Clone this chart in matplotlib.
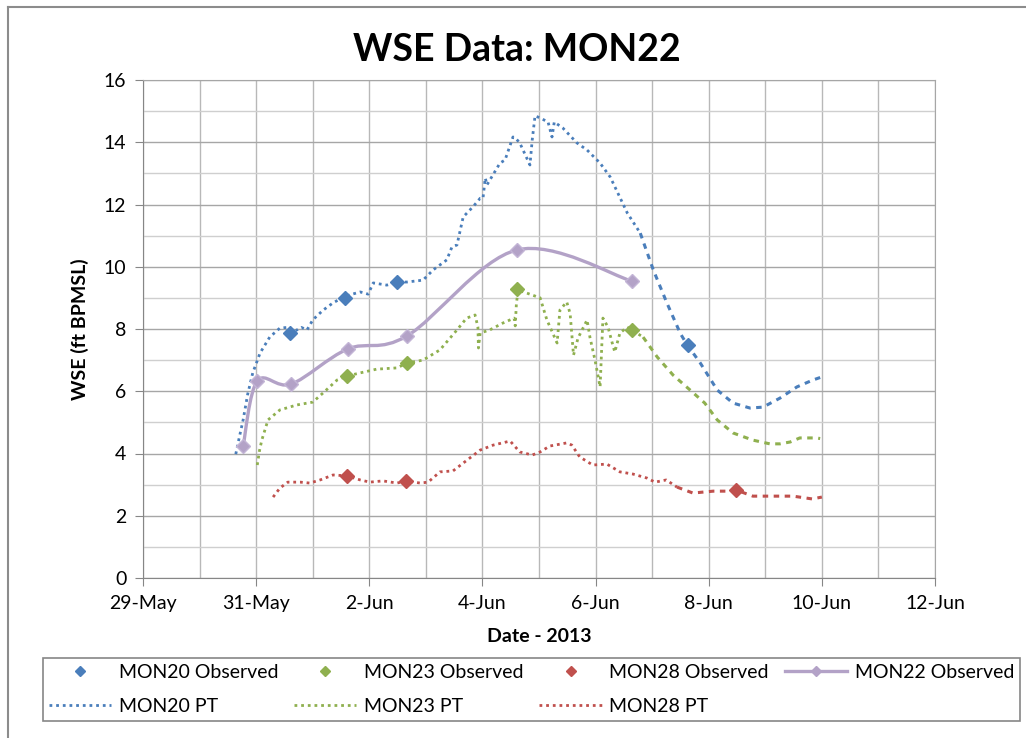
import numpy as np
import matplotlib
matplotlib.use('Agg')
import matplotlib.pyplot as plt
import matplotlib.dates as mdates
from matplotlib.path import Path
from matplotlib.patches import PathPatch
from matplotlib.lines import Line2D
from matplotlib.ticker import MultipleLocator

plt.rcParams['font.family'] = ['Lato', 'DejaVu Sans']

# days after 29-May-2013
base = mdates.date2num(np.datetime64('2013-05-29'))

mon20_obs_x = [2.60, 3.57, 4.49, 9.63]
mon20_obs_y = [7.87, 9.00, 9.51, 7.49]
mon23_obs_x = [3.61, 4.67, 6.61, 8.64]
mon23_obs_y = [6.49, 6.91, 9.29, 7.97]
mon28_obs_x = [3.61, 4.65, 10.48]
mon28_obs_y = [3.28, 3.12, 2.83]
mon22_obs_x = [1.77, 2.02, 2.62, 3.62, 4.67, 6.61, 8.64]
mon22_obs_y = [4.24, 6.33, 6.23, 7.36, 7.78, 10.54, 9.54]

mon20_pt_x = [1.64, 1.70, 1.77, 1.85, 1.94, 2.07, 2.24, 2.42, 2.55, 2.60, 2.70, 2.80,
              2.90, 3.00, 3.18, 3.36, 3.57, 3.70, 3.84, 3.98, 4.07, 4.31, 4.49, 4.67,
              4.95, 5.13, 5.37, 5.46, 5.55, 5.66, 5.83, 5.96, 6.01, 6.05, 6.08, 6.31,
              6.40, 6.54, 6.58, 6.66, 6.84, 6.88, 6.93, 7.02, 7.16, 7.23, 7.27, 7.42,
              7.67, 7.85, 8.08, 8.26, 8.56, 8.79, 9.02, 9.26, 9.50, 9.62, 9.85, 10.15,
              10.43, 10.73, 10.96, 11.26, 11.56, 11.84, 12.00]
mon20_pt_y = [3.98, 4.50, 5.08, 5.90, 6.59, 7.23, 7.74, 8.03, 8.05, 7.95, 7.95, 8.05,
              7.97, 8.29, 8.60, 8.84, 9.05, 9.12, 9.19, 9.12, 9.48, 9.41, 9.50, 9.51,
              9.57, 9.90, 10.22, 10.63, 10.70, 11.60, 11.92, 12.20, 12.20, 12.85, 12.63, 13.33,
              13.43, 14.17, 14.14, 13.98, 13.27, 14.07, 14.85, 14.78, 14.65, 14.17, 14.65, 14.46,
              13.98, 13.75, 13.33, 12.88, 11.73, 11.08, 9.90, 8.84, 7.85, 7.49, 6.91, 6.04,
              5.62, 5.46, 5.49, 5.78, 6.14, 6.36, 6.46]

mon23_pt_x = [2.02, 2.06, 2.10, 2.21, 2.42, 2.72, 3.00, 3.18, 3.43, 3.61, 3.84, 4.13,
              4.49, 4.67, 4.95, 5.25, 5.55, 5.72, 5.87, 5.92, 5.93, 5.96, 6.13, 6.36,
              6.56, 6.58, 6.60, 6.63, 6.79, 7.02, 7.14, 7.32, 7.37, 7.49, 7.55, 7.61,
              7.69, 7.85, 7.90, 7.99, 8.08, 8.13, 8.22, 8.29, 8.34, 8.43, 8.56, 8.64,
              8.84, 9.09, 9.37, 9.67, 9.93, 10.15, 10.43, 10.78, 11.08, 11.26, 11.44, 11.61,
              11.91, 11.97]
mon23_pt_y = [3.63, 4.10, 4.43, 5.08, 5.40, 5.56, 5.65, 5.94, 6.36, 6.49, 6.59, 6.71,
              6.75, 6.91, 7.00, 7.33, 7.97, 8.35, 8.45, 8.06, 7.39, 7.87, 7.97, 8.19,
              8.35, 8.10, 8.80, 9.25, 9.15, 9.00, 8.29, 7.55, 8.61, 8.87, 8.50, 7.16,
              7.71, 8.29, 7.74, 7.00, 6.14, 8.35, 8.06, 7.58, 7.26, 7.87, 8.06, 7.97,
              7.74, 7.10, 6.52, 6.04, 5.62, 5.08, 4.66, 4.43, 4.31, 4.31, 4.37, 4.50,
              4.50, 4.48]

mon28_pt_x = [2.30, 2.42, 2.56, 2.78, 2.95, 3.13, 3.36, 3.61, 3.84, 4.01, 4.24, 4.49,
              4.65, 4.90, 5.04, 5.25, 5.48, 5.73, 5.96, 6.19, 6.49, 6.66, 6.88, 7.02,
              7.19, 7.49, 7.58, 7.72, 7.95, 8.20, 8.43, 8.66, 8.91, 9.05, 9.25, 9.44,
              9.72, 10.08, 10.32, 10.48, 10.78, 11.14, 11.49, 11.83, 12.00]
mon28_pt_y = [2.60, 2.89, 3.08, 3.08, 3.05, 3.15, 3.31, 3.28, 3.15, 3.08, 3.12, 3.05,
              3.12, 3.05, 3.08, 3.41, 3.44, 3.79, 4.11, 4.27, 4.40, 4.05, 3.95, 4.05,
              4.24, 4.34, 4.27, 3.89, 3.63, 3.66, 3.41, 3.34, 3.21, 3.08, 3.15, 2.92,
              2.73, 2.79, 2.79, 2.83, 2.63, 2.63, 2.63, 2.54, 2.60]

blue = '#4a7ebb'
green = '#8fb04f'
red = '#c0504d'
purple = '#b3a2c7'

fig = plt.figure(figsize=(10.26, 7.38), dpi=100)
ax = fig.add_axes([143 / 1026, 1 - 578 / 738, (935 - 143) / 1026, (578 - 80) / 738])


def plot_pt(xs, ys, color, split, label):
    xs = base + np.array(xs)
    ys = np.array(ys)
    i = np.searchsorted(xs, base + split)
    h, = ax.plot(xs[:i + 1], ys[:i + 1], color=color, lw=2, ls=(0, (1, 1.4)), label=label, zorder=3)
    ax.plot(xs[i:], ys[i:], color=color, lw=2.2, ls=(0, (1.8, 1.8)), zorder=3)
    return h


h20pt = plot_pt(mon20_pt_x, mon20_pt_y, blue, 8.6, 'MON20 PT')
h23pt = plot_pt(mon23_pt_x, mon23_pt_y, green, 8.7, 'MON23 PT')
h28pt = plot_pt(mon28_pt_x, mon28_pt_y, red, 9.3, 'MON28 PT')

# smoothed line for MON22 (bezier through the observed points)
px = base + np.array(mon22_obs_x)
py = np.array(mon22_obs_y)
pts = np.column_stack([px, py])
verts = [pts[0]]
codes = [Path.MOVETO]
for k in range(len(pts) - 1):
    p0 = pts[k - 1] if k > 0 else pts[k]
    p3 = pts[k + 2] if k + 2 < len(pts) else pts[k + 1]
    c1 = pts[k] + (pts[k + 1] - p0) / 6
    c2 = pts[k + 1] - (p3 - pts[k]) / 6
    verts += [c1, c2, pts[k + 1]]
    codes += [Path.CURVE4] * 3
ax.add_patch(PathPatch(Path(verts, codes), fc='none', ec=purple, lw=2.4, zorder=4))
ax.plot(px, py, ls='none', marker='D', ms=7, color=purple, mec='#c3b5d6', zorder=5)

ax.plot(base + np.array(mon20_obs_x), mon20_obs_y, ls='none', marker='D', ms=7, color=blue, zorder=6)
ax.plot(base + np.array(mon23_obs_x), mon23_obs_y, ls='none', marker='D', ms=7, color=green, zorder=6)
ax.plot(base + np.array(mon28_obs_x), mon28_obs_y, ls='none', marker='D', ms=7, color=red, zorder=6)

ax.set_xlim(base, base + 14)
ax.set_ylim(0, 16)
ax.xaxis.set_major_locator(MultipleLocator(2))
ax.xaxis.set_minor_locator(MultipleLocator(1))
ax.xaxis.set_major_formatter(mdates.DateFormatter('%-d-%b'))
ax.yaxis.set_major_locator(MultipleLocator(2))
ax.yaxis.set_minor_locator(MultipleLocator(1))
ax.grid(True, which='major', axis='y', color='#a6a6a6', lw=1)
ax.grid(True, which='minor', axis='y', color='#cfcfcf', lw=1)
ax.grid(True, which='both', axis='x', color='#b8b8b8', lw=1)
ax.set_axisbelow(True)
for s in ax.spines.values():
    s.set_color('#a6a6a6')
ax.spines['left'].set_color('#868686')
ax.spines['bottom'].set_color('#868686')
ax.tick_params(which='major', direction='out', length=6, color='#868686', labelsize=14, pad=6)
ax.tick_params(which='minor', length=0)

fig.text(517 / 1026, 1 - 50 / 738, 'WSE Data: MON22', ha='center', va='center', fontsize=27, weight='bold')
fig.text(80 / 1026, 1 - 329 / 738, 'WSE (ft BPMSL)', ha='center', va='center', rotation=90, fontsize=14, weight='bold')
fig.text(539 / 1026, 1 - 637 / 738, 'Date - 2013', ha='center', va='center', fontsize=14, weight='bold')

h20o = Line2D([], [], ls='none', marker='D', ms=5, color=blue)
h23o = Line2D([], [], ls='none', marker='D', ms=5, color=green)
h28o = Line2D([], [], ls='none', marker='D', ms=5, color=red)
h22o = Line2D([], [], ls='-', lw=2.4, marker='D', ms=5, color=purple)
handles = [h20o, h20pt, h23o, h23pt, h28o, h28pt, h22o]
labels = ['MON20 Observed', 'MON20 PT', 'MON23 Observed', 'MON23 PT',
          'MON28 Observed', 'MON28 PT', 'MON22 Observed']
leg = fig.legend(handles, labels, ncol=4, loc='center', mode='expand',
                 bbox_to_anchor=(43 / 1026, 1 - 723 / 738, 977 / 1026, 67 / 738),
                 fontsize=14, handlelength=3.2, handletextpad=0.4, fancybox=False,
                 edgecolor='#868686', framealpha=1, borderaxespad=0, labelspacing=0.85,
                 borderpad=0.3)
leg.get_frame().set_linewidth(1.2)

# chart area border (top and left visible)
fig.add_artist(Line2D([8 / 1026, 1], [1 - 7 / 738, 1 - 7 / 738], color='#8c8c8c', lw=1.5))
fig.add_artist(Line2D([8 / 1026, 8 / 1026], [0, 1 - 7 / 738], color='#8c8c8c', lw=1.5))

fig.savefig('out.png', dpi=100)
